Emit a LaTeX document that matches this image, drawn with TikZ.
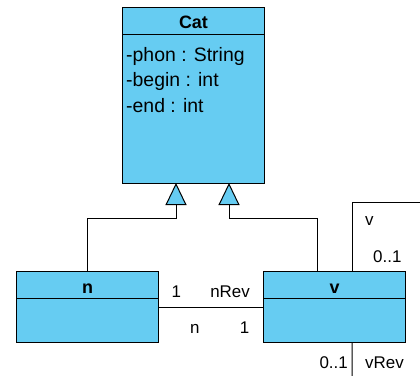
\documentclass[tikz,border=0pt]{standalone}
\usepackage{fontspec}
\setmainfont{Liberation Sans}
\usetikzlibrary{arrows.meta}
\usetikzlibrary{positioning}
\definecolor{cblue}{RGB}{102,204,242}
\tikzset{hdr/.style = {draw, fill=cblue, line width=1bp, minimum width=141bp,
                       minimum height=27bp, inner sep=0, outer sep=0,
                       font=\fontsize{18}{20}\selectfont\bfseries,
                       text height=16bp, text depth=0bp}}
\tikzset{cbody/.style = {draw, fill=cblue, line width=1bp, minimum width=141bp,
                         inner sep=0, outer sep=0}}
\tikzset{attr/.style = {anchor=base west, inner sep=0, font=\fontsize{19.5}{23}\selectfont}}
\tikzset{role/.style = {inner sep=0, font=\fontsize{17}{20}\selectfont}}
\tikzset{inherit/.style = {line width=1bp,
                           -{Triangle[width=21bp, length=22bp, fill=cblue]}}}
\tikzset{assoc/.style = {line width=1bp}}

\begin{document}
\begin{tikzpicture}[x=1bp, y=-1bp]
      \useasboundingbox (0, 0) rectangle (420, 376);

      \node [hdr] (cat) at (193.5, 20.5) {Cat};
      \node [cbody, minimum height=149bp, below=0 of cat] (catbody) {};
      \node [attr] (aphon) at (126, 61) {-phon : String};
      \node [attr] (abegin) at (126, 86) {-begin : int};
      \node [attr] (aend) at (126, 112) {-end : int};

      \node [hdr] (n) at (87.5, 285) {n};
      \node [cbody, minimum height=44bp, below=0 of n] (nbody) {};
      \node [hdr] (v) at (334.5, 285) {v};
      \node [cbody, minimum height=44bp, below=0 of v] (vbody) {};

      \draw [inherit] (n.north) -- ++(0, -53) -| ([xshift=-17.5bp]catbody.south);
      \draw [inherit] ([xshift=-17.5bp]v.north) -- ++(0, -53) -| ([xshift=35.5bp]catbody.south);

      \draw [assoc] ([yshift=-9bp]nbody.north east) -- ([yshift=-9bp]vbody.north west);
      \node [role, anchor=base west] (nmult) at (171.5, 297) {1};
      \node [role, anchor=base east] (nrev) at (250, 297) {nRev};
      \node [role, anchor=base west] (nrole) at (190, 333) {n};
      \node [role, anchor=base east] (vmult) at (249.5, 333) {1};

      \coordinate (vout) at (430, 202);
      \coordinate (vin) at (352, 386);
      \draw [assoc] ([xshift=17.5bp]v.north) |- (vout);
      \draw [assoc] ([xshift=17.5bp]vbody.south) -- (vin);
      \node [role, anchor=base west] (vrole) at (365, 225) {v};
      \node [role, anchor=base west] (vupmult) at (373, 262) {0..1};
      \node [role, anchor=base east] (vdnmult) at (348, 368) {0..1};
      \node [role, anchor=base west] (vrev) at (365, 368) {vRev};
\end{tikzpicture}
\end{document}
